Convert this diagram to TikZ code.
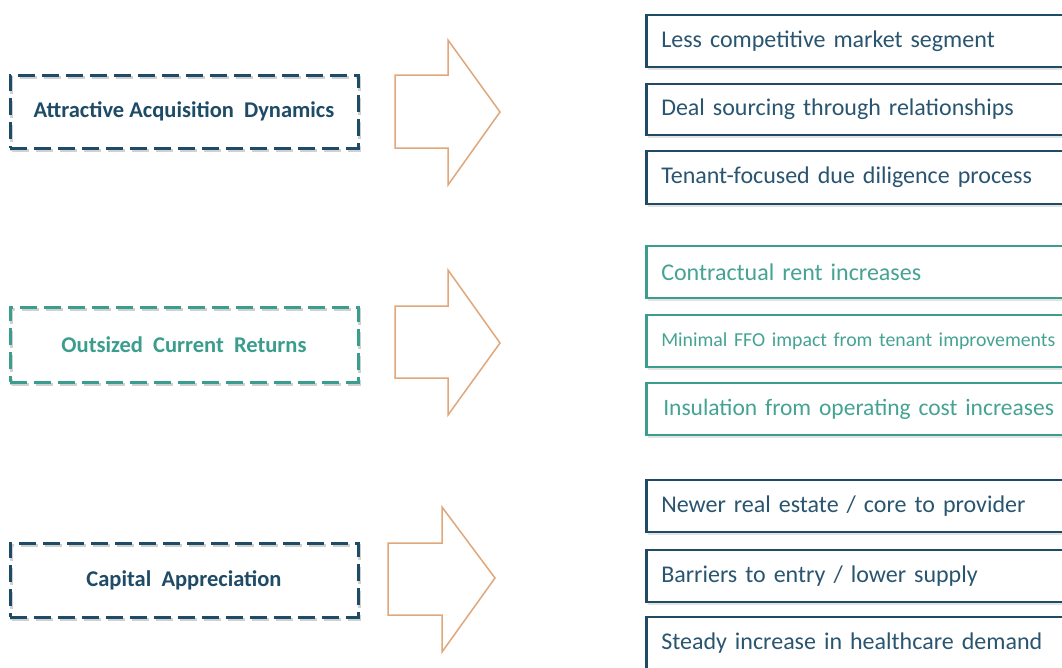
\documentclass[tikz,border=0pt]{standalone}
\usepackage{fontspec}
\setmainfont{Carlito}
\usetikzlibrary{shadows}

\definecolor{navyline}{HTML}{1E4B66}
\definecolor{navytext}{HTML}{2A5570}
\definecolor{tealline}{HTML}{3A9D8D}
\definecolor{tealtext}{HTML}{45A394}
\definecolor{tanline}{HTML}{DFA77A}

\tikzset{
  x=1pt, y=-1pt,
  % dashed headline box on the left
  headbox/.style={draw=#1, line width=3pt, dash pattern=on 17pt off 7pt,
    minimum width=348pt, minimum height=73pt, inner sep=0pt,
    font=\bfseries\fontsize{22.5}{26}\selectfont,
    preaction={draw=black!18, line width=3pt, dash pattern=on 17pt off 7pt,
      transform canvas={shift={(1.5pt,-2.5pt)}}}},
  % solid bullet box on the right
  itembox/.style={draw=#1, line width=2.5pt, anchor=west,
    minimum width=450pt, minimum height=52pt,
    text width=420pt, align=left, inner xsep=13pt, inner ysep=0pt,
    font=\fontsize{24}{28}\selectfont,
    drop shadow={opacity=0.22, shadow xshift=1.5pt, shadow yshift=-2.5pt},
    fill=white},
  blockarrow/.style={draw=tanline, line width=1.5pt, line join=miter},
}

\begin{document}
\begin{tikzpicture}
\useasboundingbox (0,0) rectangle (1062,667);
\fill[white] (0,0) rectangle (1062,667);
\clip (0,0) rectangle (1062,667);

% ---- Attractive Acquisition Dynamics ----
\node[headbox=navyline, text=navyline] (hA) at (184,111.5)
  {Attractive Acquisition\ \ Dynamics};
\draw[blockarrow] (395,75) -- (448,75) -- (448,40) -- (500,112)
  -- (448,185) -- (448,148) -- (395,148) -- cycle;
\node[itembox=navyline, text=navytext] (a1) at (645,41)
  {Less competitive market segment};
\node[itembox=navyline, text=navytext, minimum height=51pt] (a2) at (645,109.5)
  {Deal sourcing through relationships};
\node[itembox=navyline, text=navytext, minimum height=53pt] (a3) at (645,177.5)
  {Tenant-focused due diligence process};

% ---- Outsized Current Returns ----
\node[headbox=tealline, text=tealline, minimum height=75pt] (hB) at (184,344.5)
  {Outsized\ \ Current\ \ Returns};
\draw[blockarrow] (395,306) -- (448,306) -- (448,270) -- (500,343)
  -- (448,415) -- (448,378) -- (395,378) -- cycle;
\node[itembox=tealline, text=tealtext] (b1) at (645,272)
  {Contractual rent increases};
\node[itembox=tealline, text=tealtext, font=\fontsize{19.8}{24}\selectfont,
  inner xsep=10pt] (b2) at (645,341)
  {Minimal FFO impact from tenant improvements};
\node[itembox=tealline, text=tealtext, font=\fontsize{23.5}{28}\selectfont,
  inner xsep=17pt] (b3) at (645,409)
  {Insulation from operating cost increases};

% ---- Capital Appreciation ----
\node[headbox=navyline, text=navyline, minimum height=74pt] (hC) at (184,580)
  {Capital\ \ Appreciation};
\draw[blockarrow] (388,543) -- (442,543) -- (442,507) -- (495,578)
  -- (442,652) -- (442,615) -- (388,615) -- cycle;
\node[itembox=navyline, text=navytext] (c1) at (645,506)
  {Newer real estate / core to provider};
\node[itembox=navyline, text=navytext] (c2) at (645,576)
  {Barriers to entry / lower supply};
\node[itembox=navyline, text=navytext] (c3) at (645,643)
  {Steady increase in healthcare demand};
\end{tikzpicture}
\end{document}
